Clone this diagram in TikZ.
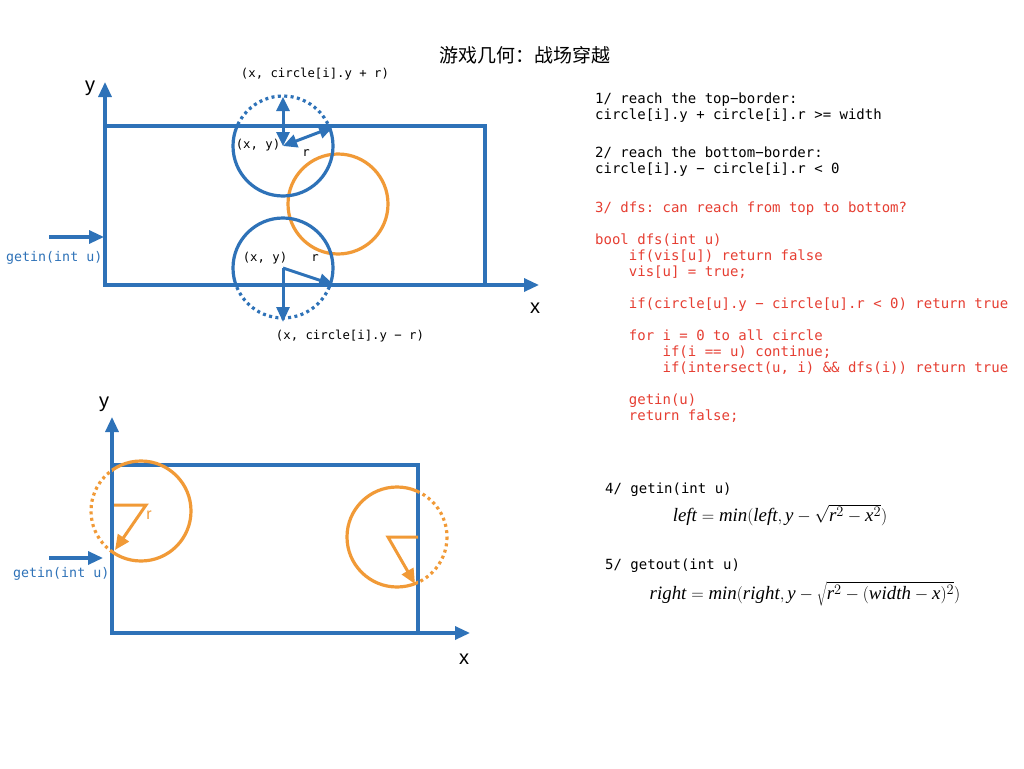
\documentclass[tikz,border=0pt]{standalone}
\usepackage{fontspec}
\setmainfont{Liberation Serif}
\setmonofont{DejaVu Sans Mono}
\newfontfamily\cjk{Noto Sans CJK SC}
\newfontfamily\axisfont{Liberation Sans}
\usetikzlibrary{arrows.meta}
\definecolor{cblue}{RGB}{46,114,184}
\definecolor{corange}{RGB}{241,154,55}
\definecolor{cred}{RGB}{230,62,50}
\newcommand\ti[1]{\mbox{\itshape #1}}
\tikzset{
  bline/.style={draw=cblue,line width=3.2pt},
  oline/.style={draw=corange,line width=3.2pt},
  dotline/.style={dash pattern=on 3pt off 3.4pt},
  tip/.style={-{Triangle[length=15pt,width=13pt]}},
  tips/.style={{Triangle[length=14pt,width=13pt]}-{Triangle[length=14pt,width=13pt]}},
  code/.style={anchor=west,inner sep=0pt,font=\fontsize{14}{16}\selectfont\ttfamily,align=left},
  small/.style={inner sep=0pt,font=\fontsize{12.3}{14}\selectfont\ttfamily},
  blab/.style={inner sep=0pt,anchor=west,text=cblue,font=\fontsize{13.3}{15}\selectfont\ttfamily},
  axl/.style={inner sep=0pt,font=\fontsize{20}{22}\selectfont\axisfont},
  formula/.style={inner sep=0pt,font=\fontsize{18.9}{21}\selectfont},
}
\begin{document}
\begin{tikzpicture}[x=1pt,y=-1pt]
\useasboundingbox[fill=white] (0,0) rectangle (1024,768);

% title
\node[inner sep=0pt,font=\fontsize{19}{21}\selectfont\cjk] (title) at (525,55) {游戏几何：战场穿越};

% ===== top diagram =====
\coordinate (o1) at (105,285);
\coordinate (y1) at (105,82);
\coordinate (x1) at (539,285);
\draw[bline,tip] (o1) -- (y1);
\draw[bline,tip] (o1) -- (x1);
\draw[bline] (105,126) rectangle (485,285);
\node[axl] (ly1) at (90,88) {y};
\node[axl] (lx1) at (535,308) {x};
\coordinate (g1a) at (49,237);
\coordinate (g1b) at (104,237);
\draw[bline,tip] (g1a) -- (g1b);
\node[blab] (gl1) at (6,258) {getin(int u)};

% orange circle
\draw[oline] (338,204) circle[radius=50];

% top blue circle
\coordinate (c1) at (283,146);
\begin{scope}
\clip (0,0) rectangle (1024,126);
\draw[bline,dotline] (c1) circle[radius=50];
\end{scope}
\begin{scope}
\clip (0,126) rectangle (1024,768);
\draw[bline] (c1) circle[radius=50];
\end{scope}
\coordinate (c1t) at (283,97);
\coordinate (c1r) at (333,127);
\draw[bline,line width=3pt,tips] (c1) -- (c1t);
\draw[bline,line width=3pt,tips] (c1) -- (c1r);

% bottom blue circle
\coordinate (c2) at (283,268);
\begin{scope}
\clip (0,285) rectangle (1024,768);
\draw[bline,dotline] (c2) circle[radius=50];
\end{scope}
\begin{scope}
\clip (0,0) rectangle (1024,285);
\draw[bline] (c2) circle[radius=50];
\end{scope}
\coordinate (c2b) at (283,322);
\coordinate (c2r) at (334,285);
\draw[bline,line width=3pt,tip] (c2) -- (c2b);
\draw[bline,line width=3pt,tip] (c2) -- (c2r);

\node[small] (t1) at (315,74) {(x, circle[i].y + r)};
\node[small] (t2) at (258,145) {(x, y)};
\node[small] (t3) at (306,153) {r};
\node[small] (t4) at (265,258) {(x, y)};
\node[small] (t5) at (315,258) {r};
\node[small] (t6) at (350,336) {(x, circle[i].y − r)};

% ===== bottom diagram =====
\coordinate (o2) at (112,633);
\coordinate (y2) at (112,417);
\coordinate (x2) at (470,633);
\draw[bline,tip] (o2) -- (y2);
\draw[bline,tip] (o2) -- (x2);
\draw[bline] (112,465) rectangle (418,633);
\node[axl] (ly2) at (104,404) {y};
\node[axl] (lx2) at (464,659) {x};
\coordinate (g2a) at (49,558);
\coordinate (g2b) at (103,558);
\draw[bline,tip] (g2a) -- (g2b);
\node[blab] (gl2) at (13,574) {getin(int u)};

% left orange circle
\coordinate (c3) at (141,511);
\begin{scope}
\clip (0,0) rectangle (112,768);
\draw[oline,dotline] (c3) circle[radius=50];
\end{scope}
\begin{scope}
\clip (112,0) rectangle (1024,768);
\draw[oline] (c3) circle[radius=50];
\end{scope}
\coordinate (c3a) at (114,505);
\coordinate (c3b) at (146,505);
\coordinate (c3c) at (115,550);
\draw[oline,line width=3pt,tip] (c3a) -- (c3b) -- (c3c);
\node[inner sep=0pt,text=corange,font=\fontsize{16}{18}\selectfont\axisfont] (r3) at (149,515) {r};

% right orange circle
\coordinate (c4) at (397,537);
\begin{scope}
\clip (418,0) rectangle (1024,768);
\draw[oline,dotline] (c4) circle[radius=50];
\end{scope}
\begin{scope}
\clip (0,0) rectangle (418,768);
\draw[oline] (c4) circle[radius=50];
\end{scope}
\coordinate (c4a) at (418,537);
\coordinate (c4b) at (388,537);
\coordinate (c4c) at (415,584);
\draw[oline,line width=3pt,tip] (c4a) -- (c4b) -- (c4c);

% ===== right text =====
\node[code] (s1) at (595,108) {1/ reach the top−border:\\circle[i].y + circle[i].r >= width};
\node[code] (s2) at (595,162) {2/ reach the bottom−border:\\circle[i].y − circle[i].r < 0};
\node[code,text=cred] (s3) at (595,312) {3/ dfs: can reach from top to bottom?\\[16pt]
bool dfs(int u)\\
\ \ \ \ if(vis[u]) return false\\
\ \ \ \ vis[u] = true;\\[16pt]
\ \ \ \ if(circle[u].y − circle[u].r < 0) return true\\[16pt]
\ \ \ \ for i = 0 to all circle\\
\ \ \ \ \ \ \ \ if(i == u) continue;\\
\ \ \ \ \ \ \ \ if(intersect(u, i) \&\& dfs(i)) return true\\[16pt]
\ \ \ \ getin(u)\\
\ \ \ \ return false;};

\node[code] (s4) at (605,490) {4/ getin(int u)};
\node[formula] (f4) at (780,515) {$\ti{left}=\ti{min}(\ti{left},\ti{y}-\sqrt{\ti{r}^2-\ti{x}^2})$};
\node[code] (s5) at (605,566) {5/ getout(int u)};
\node[formula] (f5) at (805,594) {$\ti{right}=\ti{min}(\ti{right},\ti{y}-\sqrt{\ti{r}^2-(\ti{width}-\ti{x})^2})$};
\end{tikzpicture}
\end{document}
